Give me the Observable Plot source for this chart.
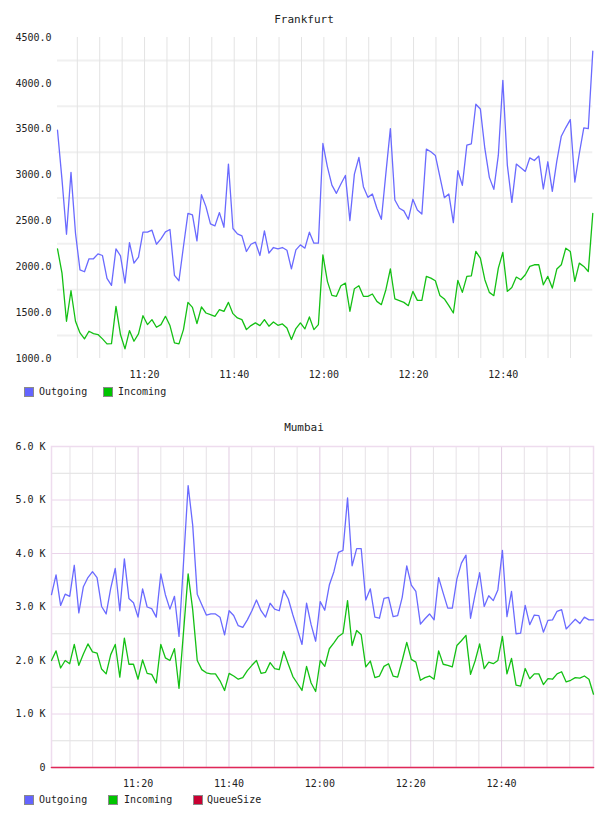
<!DOCTYPE html>
<html><head><meta charset="utf-8">
<script src="https://cdn.jsdelivr.net/npm/d3@7"></script>
<script src="https://cdn.jsdelivr.net/npm/@observablehq/plot@0.6"></script>
<style>
body{margin:0;background:#fff;width:608px;height:816px;position:relative;overflow:hidden;font-family:"DejaVu Sans Mono",monospace;color:#222}
.title{position:absolute;left:0;width:608px;text-align:center;font-size:11px;line-height:14px;color:#222}
.sw{position:absolute;width:8px;height:8px;border:1px solid #8a8a8a}
.lt{position:absolute;font-size:10px;line-height:10px;color:#222;white-space:nowrap}
.chart{position:absolute;left:0}
</style></head><body>
<div class="title" style="top:13px">Frankfurt</div>
<div id="f" class="chart" style="top:28px"></div>
<div class="sw" style="left:24px;top:387px;background:#6464ff"></div><div class="lt" style="left:39px;top:387px">Outgoing</div>
<div class="sw" style="left:103px;top:387px;background:#00c400"></div><div class="lt" style="left:118px;top:387px">Incoming</div>

<div class="title" style="top:421px">Mumbai</div>
<div id="m" class="chart" style="top:437px"></div>
<div class="sw" style="left:24px;top:795px;background:#6464ff"></div><div class="lt" style="left:39px;top:795px">Outgoing</div>
<div class="sw" style="left:108px;top:795px;background:#00c400"></div><div class="lt" style="left:124px;top:795px">Incoming</div>
<div class="sw" style="left:193px;top:795px;background:#c80032"></div><div class="lt" style="left:207px;top:795px">QueueSize</div>
<script>
// ---- Frankfurt data (one sample per minute) ----
const frankfurtOutgoing = [3489,2950,2355,3029,2366,1967,1946,2087,2087,2141,
2123,1873,1797,2196,2120,1823,2264,2040,2105,2377,
2377,2399,2246,2304,2380,2406,1906,1848,2221,2583,
2565,2283,2786,2656,2467,2446,2591,2431,3120,2417,
2359,2337,2167,2246,2268,2123,2391,2149,2210,2196,
2210,2181,1978,2185,2239,2203,2377,2257,2257,3344,
3090,2891,2801,2902,2996,2504,3011,3192,2873,2757,
2793,2638,2518,3018,3507,2728,2638,2609,2518,2736,
2620,2576,3283,3254,3214,2982,2754,2793,2482,3047,
2888,3326,3341,3772,3721,3290,2975,2844,3217,4033,
3109,2703,3120,3080,3040,3188,3159,3207,2848,3145,
2822,3152,3424,3518,3605,2924,3235,3514,3507,4351];
const frankfurtIncoming = [2196,1931,1406,1739,1406,1279,1214,1297,1272,1261,
1214,1159,1163,1569,1261,1105,1304,1188,1268,1467,
1370,1424,1341,1370,1460,1359,1170,1159,1315,1612,
1558,1380,1562,1496,1478,1460,1533,1514,1612,1489,
1442,1424,1315,1359,1388,1359,1424,1352,1399,1362,
1377,1333,1207,1326,1388,1323,1453,1315,1370,2130,
1841,1688,1678,1793,1822,1515,1761,1793,1678,1678,
1703,1623,1587,1750,1978,1649,1631,1612,1576,1732,
1634,1634,1895,1877,1848,1688,1649,1576,1496,1852,
1721,1895,1902,2167,2094,1859,1721,1685,1985,2156,
1732,1775,1888,1859,1913,2004,2022,2022,1804,1895,
1768,1975,2022,2203,2167,1841,2040,2004,1949,2583];
const frankfurtYTicks = [1000,1500,2000,2500,3000,3500,4000,4500];
const frankfurtYGrid = [1250,1750,2250,2750,3250,3750,4250];

// ---- Mumbai data ----
const mumbaiOutgoing = [3230,3600,3030,3240,3200,3780,2890,3380,3550,3660,
3550,3010,2870,3350,3720,2930,3900,3160,3080,2810,
3340,3000,2970,2810,3620,3230,2960,3200,2450,3850,
5270,4530,3240,3040,2850,2870,2870,2810,2480,2930,
2840,2650,2620,2760,2930,3130,2930,2810,3070,2960,
2930,3310,3150,2850,2580,2300,3070,2670,2360,3100,
2940,3410,3660,4020,4060,5040,3770,4090,4090,3130,
3340,2810,2790,3160,3180,2820,2840,3180,3770,3410,
3290,2680,2780,2870,2760,3550,3260,2980,2980,3520,
3820,3970,2790,3230,3640,3010,3210,3120,3320,4060,
2820,3290,2500,2510,3030,2670,2850,2840,2530,2750,
2760,2920,2950,2590,2680,2770,2690,2810,2760,2760];
const mumbaiIncoming = [2000,2180,1860,2000,1940,2300,1910,2120,2310,2160,
2140,1840,1750,2110,2300,1690,2420,1930,1930,1650,
2010,1760,1740,1580,2300,2050,2000,2220,1480,2550,
3620,2950,2000,1830,1770,1750,1750,1620,1440,1760,
1710,1650,1680,1810,1910,2000,1760,1780,1960,1850,
1830,2170,1930,1700,1570,1440,1890,1580,1420,2000,
1890,2220,2330,2450,2510,3120,2280,2560,2480,1880,
1990,1680,1710,1890,1940,1710,1690,2000,2340,2020,
1970,1630,1680,1710,1650,2180,1930,1910,1880,2280,
2370,2470,1740,1990,2310,1850,1970,1940,2000,2450,
1750,2040,1540,1520,1850,1660,1750,1750,1550,1660,
1650,1750,1790,1600,1630,1680,1670,1710,1650,1370];
const mumbaiQueueSize = [0,0,0,0,0,0,0,0,0,0,0,0,0,0,0,0,0,0,0,0,
0,0,0,0,0,0,0,0,0,0,0,0,0,0,0,0,0,0,0,0,
0,0,0,0,0,0,0,0,0,0,0,0,0,0,0,0,0,0,0,0,
0,0,0,0,0,0,0,0,0,0,0,0,0,0,0,0,0,0,0,0,
0,0,0,0,0,0,0,0,0,0,0,0,0,0,0,0,0,0,0,0,
0,0,0,0,0,0,0,0,0,0,0,0,0,0,0,0,0,0,0,0];
const mumbaiYTicks = [0,1000,2000,3000,4000,5000,6000];
const mumbaiYMinor = [500,1500,2500,3500,4500,5500];

// ---- shared time info ----
const xTickLabels = ["11:20","11:40","12:00","12:20","12:40"];
const frankfurtStart = "11:00:35", frankfurtStepSec = 60.2;
const mumbaiStart = "11:00:56", mumbaiStepSec = 60.15;

const day = (hms) => { const [h,m,s] = hms.split(":").map(Number); return new Date(2020,0,1,h,m,s||0); };
const xTicks = xTickLabels.map(day);
const fmt = d3.timeFormat("%H:%M");
const styleObj = {fontFamily:"DejaVu Sans Mono, monospace", fontSize:"10px", color:"#222", background:"transparent", overflow:"visible"};

function build(start, step, series) {
  const t0 = day(start).getTime();
  return series[0].map((_, i) => {
    const o = {t: new Date(t0 + i * step * 1000)};
    series.forEach((s, k) => o["s" + k] = s[i]);
    return o;
  });
}

// Frankfurt
const fData = build(frankfurtStart, frankfurtStepSec, [frankfurtOutgoing, frankfurtIncoming]);
const fDom = [fData[0].t, fData[fData.length - 1].t];
const fGridX = d3.timeMinute.every(5).range(day("11:05"), day("13:00"));
const fChart = Plot.plot({
  width: 608, height: 356, marginTop: 9, marginBottom: 26, marginLeft: 57, marginRight: 15.7,
  style: styleObj,
  x: {type: "time", domain: fDom, ticks: xTicks, tickFormat: fmt, tickSize: 0, tickPadding: 12, label: null},
  y: {domain: [1000, 4500], ticks: frankfurtYTicks, tickFormat: d => d.toFixed(1), tickSize: 0, tickPadding: 6, label: null},
  marks: [
    Plot.ruleY(frankfurtYGrid, {stroke: "#f0f0f0", strokeWidth: 2}),
    Plot.ruleX(fGridX, {stroke: "#e3e3e3", strokeWidth: 1}),
    Plot.lineY(fData, {x: "t", y: "s1", stroke: "#14c014", strokeWidth: 1.3}),
    Plot.lineY(fData, {x: "t", y: "s0", stroke: "#6a6aff", strokeWidth: 1.3})
  ]
});
document.getElementById("f").appendChild(fChart);

// Mumbai
const mData = build(mumbaiStart, mumbaiStepSec, [mumbaiOutgoing, mumbaiIncoming, mumbaiQueueSize]);
const mDom = [mData[0].t, mData[mData.length - 1].t];
const allX = d3.timeMinute.every(5).range(day("11:05"), day("13:00"));
const mMajorX = allX.filter(d => d.getMinutes() % 20 === 0);
const mMinorX = allX.filter(d => d.getMinutes() % 20 !== 0);
const mChart = Plot.plot({
  width: 608, height: 356, marginTop: 9, marginBottom: 26, marginLeft: 51, marginRight: 15,
  style: styleObj,
  x: {type: "time", domain: mDom, ticks: xTicks, tickFormat: fmt, tickSize: 0, tickPadding: 12, label: null},
  y: {domain: [0, 6000], ticks: mumbaiYTicks, tickFormat: d => d === 0 ? "0" : (d / 1000).toFixed(1) + " K", tickSize: 0, tickPadding: 6, label: null},
  marks: [
    Plot.ruleY(mumbaiYMinor, {stroke: "#e0e0e0", strokeWidth: 1}),
    Plot.ruleX(mMinorX, {stroke: "#e6e2e6", strokeWidth: 1}),
    Plot.ruleY(mumbaiYTicks, {stroke: "#ead4ea", strokeWidth: 1}),
    Plot.ruleX(mMajorX, {stroke: "#e2cce2", strokeWidth: 1}),
    Plot.frame({stroke: "#eedcee", strokeWidth: 1.5}),
    Plot.lineY(mData, {x: "t", y: "s1", stroke: "#14c014", strokeWidth: 1.3}),
    Plot.lineY(mData, {x: "t", y: "s0", stroke: "#6a6aff", strokeWidth: 1.3}),
    Plot.lineY(mData, {x: "t", y: "s2", stroke: "#e02858", strokeWidth: 1.6})
  ]
});
document.getElementById("m").appendChild(mChart);
</script>
</body></html>
